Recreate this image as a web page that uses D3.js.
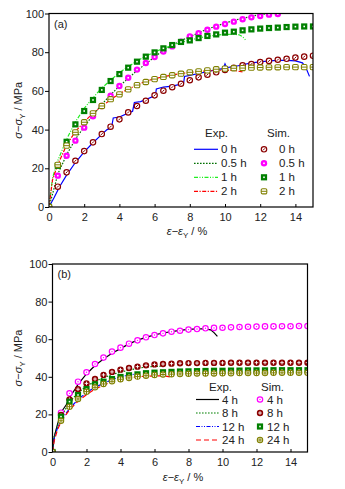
<!DOCTYPE html>
<html>
<head>
<meta charset="utf-8">
<script src="https://cdn.jsdelivr.net/npm/d3@7"></script>
<style>
  body { margin: 0; background: #fff; }
  svg { font-family: "Liberation Sans", Arial, sans-serif; }
  .tick text { font-size: 11px; fill: #222; }
</style>
</head>
<body>
<script>
// strain axis for the simulated points, 0 to 15 % every 0.5 %
const simStrain = d3.range(0, 15.01, 0.5)

// panel (a): 0 / 0.5 / 1 / 2 h
const simA0 = [0, 10.5, 17.9, 23.9, 28.9, 33.4, 37.7, 41.5, 45.3, 48.9, 52.2, 54.9, 57.7, 60.1, 61.9, 63.7,
  65.5, 67.0, 68.4, 69.6, 70.8, 72.0, 73.2, 73.9, 74.9, 75.5, 76.1, 76.6, 77.2, 77.7, 78.2]
const simA05 = [0, 16.2, 26.5, 34.3, 41.0, 46.9, 52.2, 57.5, 62.5, 66.8, 71.0, 74.4, 77.5, 80.3, 83.0, 85.4,
  88.2, 89.8, 91.6, 93.2, 94.6, 95.8, 97.0, 98.0, 98.7, 99.4, 99.7]
const simA1 = [0, 21.3, 33.7, 42.7, 49.6, 55.3, 60.5, 65.1, 68.7, 72.0, 75.1, 77.7, 79.9, 82.0, 83.7, 85.3,
  86.1, 87.3, 88.4, 89.2, 90.1, 90.6, 91.3, 91.8, 92.2, 92.5, 92.7, 93.0, 93.2, 93.3, 93.3]
const simA2 = [0, 21.8, 31.7, 38.6, 43.8, 48.4, 52.2, 55.7, 58.2, 60.8, 63.0, 64.6, 66.1, 67.2, 68.1, 68.9,
  69.6, 70.1, 70.6, 71.2, 71.5, 71.7, 71.8, 72.0, 72.1, 72.2, 72.2, 72.3, 72.3, 72.3, 72.3]

const expA0x = [0, 0.3, 0.6, 1, 1.5, 2, 2.5, 3, 3.3, 3.55, 3.65, 4, 4.5, 4.75, 4.85, 5.2, 5.5, 6, 6.05, 6.1,
  6.5, 7, 7.5, 7.65, 7.7, 8, 8.5, 9, 9.5, 9.9, 10, 10.1, 10.5, 11, 11.5, 12, 12.5, 13, 13.5, 14, 14.4, 14.6, 14.8]
const expA0y = [0, 5, 10.5, 16.5, 23, 28.5, 33.2, 37.5, 40, 40.8, 46, 46.5, 48.5, 49.5, 54, 54.5, 55.5, 57.5, 58, 61,
  62, 62.5, 63.5, 64, 67.5, 68, 69, 70, 71, 71.5, 74, 72, 72.5, 73.5, 74.5, 75, 75.5, 75.8, 75.8, 75.5, 74.5, 72, 67.5]
const expA05x = [0, 0.3, 0.5, 1, 1.5, 2, 2.5, 3, 3.5, 4, 4.5, 5, 5.5, 6, 6.5, 7, 7.5, 8, 8.5, 9, 9.5, 10, 10.5, 11, 11.5, 12, 12.5]
const expA05y = [0, 10, 17, 27, 35, 41.5, 47.5, 53, 58, 62.5, 66.5, 70.5, 74, 77.5, 81, 83.5, 86, 88, 90, 92, 93.5, 95,
  96.5, 97.5, 98.5, 99.5, 100]
const expA1x = [0, 0.2, 0.5, 1, 1.5, 2, 2.5, 3, 3.5, 4, 4.5, 5, 5.5, 6, 6.5, 7, 7.5, 8, 8.5, 9, 9.5, 10, 10.5, 10.8, 11, 11.2]
const expA1y = [0, 15, 24, 35, 44, 51, 56.5, 61.5, 65.5, 69.5, 72.5, 75.5, 78, 80, 82, 83.5, 85, 86.3, 87.3, 88.2, 88.8,
  89.2, 89.3, 89, 88, 86]
const expA2x = [0, 0.2, 0.5, 1, 1.5, 2, 2.5, 3, 3.5, 4, 4.5, 5, 5.5, 6, 6.5, 7, 7.5, 8, 8.5, 9, 9.5, 10, 10.5, 11]
const expA2y = [0, 14, 22, 32, 39, 44, 48.5, 52, 55.5, 58.5, 61, 63, 65, 66.3, 67.3, 68.2, 69, 69.5, 70, 70.4, 70.6,
  70.7, 70.6, 69.8]

// panel (b): 4 / 8 / 12 / 24 h
const simB4 = [0, 20.9, 31.2, 37.4, 42.4, 46.8, 50.2, 53.4, 55.5, 57.6, 59.4, 61.0, 62.2, 63.1, 64.0, 64.5,
  65.1, 65.4, 65.8, 66.0, 66.1, 66.3, 66.5, 66.6, 66.7, 66.8, 66.8, 66.9, 66.9, 67.0, 67.0]
const simB8 = [0, 19.7, 28.0, 33.4, 36.5, 38.8, 41.0, 42.6, 43.8, 44.7, 45.4, 46.1, 46.6, 46.8, 47.0, 47.2,
  47.3, 47.3, 47.4, 47.4, 47.4, 47.5, 47.5, 47.5, 47.5, 47.5, 47.5, 47.5, 47.5, 47.5, 47.5]
const simB12 = [0, 18.8, 26.8, 30.3, 33.5, 36.0, 37.4, 38.8, 39.9, 40.8, 41.3, 41.9, 42.2, 42.4, 42.6, 42.8,
  42.9, 43.0, 43.1, 43.2, 43.2, 43.3, 43.3, 43.4, 43.4, 43.4, 43.5, 43.5, 43.5, 43.5, 43.5]
const simB24 = [0, 16.6, 24.1, 28.2, 32.1, 34.4, 36.2, 37.6, 38.7, 39.4, 40.1, 40.6, 41.0, 41.2, 41.4, 41.5,
  41.6, 41.7, 41.8, 41.8, 41.9, 41.9, 42.0, 42.0, 42.0, 42.0, 42.1, 42.1, 42.1, 42.1, 42.1]

const expB4x = [0, 0.1, 0.3, 0.5, 0.8, 1, 1.3, 1.5, 2, 2.5, 3, 3.5, 4, 4.5, 5, 5.5, 6, 6.5, 7, 7.5, 8, 8.5, 9, 9.3, 9.5, 9.7]
const expB4y = [0, 8, 15, 21, 25, 29, 33, 36, 41.5, 46, 49.5, 52.5, 55, 57.5, 59.5, 61, 62.3, 63.3, 64, 64.7, 65.2,
  65.5, 65.5, 65, 63.5, 61.5]
const expB8x = [0, 0.1, 0.3, 0.5, 1, 1.5, 2, 2.5, 3, 3.5, 4, 4.5, 5, 5.5, 6, 6.5]
const expB8y = [0, 8, 14, 18.5, 26.5, 31.5, 35, 37.5, 39.5, 41.2, 42.5, 43.5, 44.5, 45.2, 45.5, 45.7]
const expB12x = [0, 0.1, 0.3, 0.5, 1, 1.5, 2, 2.5, 3, 3.5, 4, 4.5, 5]
const expB12y = [0, 7, 13, 17, 23, 28, 31.5, 34.5, 36.5, 38.5, 40, 41, 41.5]
const expB24x = [0, 0.1, 0.3, 0.5, 1, 1.5, 2, 2.5, 3, 3.5, 4, 4.5, 5, 5.5, 6, 6.5, 6.9]
const expB24y = [0, 6, 12, 16, 22.5, 27, 30.5, 33.5, 35.5, 37.5, 38.8, 39.5, 40, 40.3, 40.5, 40.5, 40]

const labelsA = ['0 h', '0.5 h', '1 h', '2 h']
const labelsB = ['4 h', '8 h', '12 h', '24 h']
const xTicks = [0, 2, 4, 6, 8, 10, 12, 14]
const yTicks = [0, 20, 40, 60, 80, 100]

const svg = d3.select('body').append('svg').attr('width', 345).attr('height', 489)

// marker glyphs, drawn around (0,0)
const markers = {
  ringSlash: (g, c) => {
    g.append('circle').attr('r', 2.7).attr('fill', '#fff').attr('stroke', c).attr('stroke-width', 1.2)
    g.append('line').attr('x1', -1).attr('y1', 1).attr('x2', 1).attr('y2', -1).attr('stroke', c).attr('stroke-width', 1)
  },
  filledDot: (g, c) => {
    g.append('circle').attr('r', 3.2).attr('fill', c)
    g.append('rect').attr('x', -0.8).attr('y', -0.8).attr('width', 1.6).attr('height', 1.6).attr('fill', '#fff')
  },
  filledSquare: (g, c) => {
    g.append('rect').attr('x', -3.1).attr('y', -3.1).attr('width', 6.2).attr('height', 6.2).attr('fill', c)
    g.append('rect').attr('x', -0.8).attr('y', -0.8).attr('width', 1.6).attr('height', 1.6).attr('fill', '#fff')
  },
  ringBar: (g, c) => {
    g.append('rect').attr('x', -2.8).attr('y', -2.6).attr('width', 5.6).attr('height', 5.2).attr('rx', 1.4)
      .attr('fill', '#fff').attr('stroke', c).attr('stroke-width', 1.1)
    g.append('line').attr('x1', -2.8).attr('x2', 2.8).attr('stroke', c).attr('stroke-width', 1)
  },
  ringDot: (g, c) => {
    g.append('circle').attr('r', 2.7).attr('fill', '#fff').attr('stroke', c).attr('stroke-width', 1.2)
    g.append('circle').attr('r', 0.7).attr('fill', c)
  },
  filledCross: (g, c) => {
    g.append('circle').attr('r', 3.2).attr('fill', c)
    g.append('line').attr('x1', -1.8).attr('x2', 1.8).attr('stroke', '#fff').attr('stroke-width', 0.9)
    g.append('line').attr('y1', -1.8).attr('y2', 1.8).attr('stroke', '#fff').attr('stroke-width', 0.9)
  },
  ringPlus: (g, c) => {
    g.append('circle').attr('r', 2.7).attr('fill', '#fff').attr('stroke', c).attr('stroke-width', 1.1)
    g.append('line').attr('x1', -2.7).attr('x2', 2.7).attr('stroke', c).attr('stroke-width', 1)
    g.append('line').attr('y1', -2.7).attr('y2', 2.7).attr('stroke', c).attr('stroke-width', 1)
  }
}

const panels = [
  {
    id: 'a', tag: '(a)', left: 49, right: 313, top: 13.5, bottom: 207, labels: labelsA,
    exp: [
      { x: expA0x, y: expA0y, color: '#0000ff', dash: null },
      { x: expA05x, y: expA05y, color: '#007000', dash: '1.6,1.4' },
      { x: expA1x, y: expA1y, color: '#22ee22', dash: '4,1.5,1,1.5,1,1.5' },
      { x: expA2x, y: expA2y, color: '#ff0000', dash: '4,1.5,1.2,1.5' }
    ],
    sim: [
      { y: simA0, color: '#8b0000', mark: 'ringSlash' },
      { y: simA05, color: '#ff00ff', mark: 'filledDot' },
      { y: simA1, color: '#008000', mark: 'filledSquare' },
      { y: simA2, color: '#808000', mark: 'ringBar' }
    ],
    legend: { titleY: 133, rows: [149.3, 163.3, 177.3, 191.3], lineX: [194, 218], textX: 221, title1X: 205,
      title2X: 267, markX: 264, simTextX: 279 },
    xLabelX: 187, xLabelY: 235
  },
  {
    id: 'b', tag: '(b)', left: 52.5, right: 307.5, top: 264, bottom: 452, labels: labelsB,
    exp: [
      { x: expB4x, y: expB4y, color: '#000000', dash: null },
      { x: expB8x, y: expB8y, color: '#008000', dash: '1.6,1.4' },
      { x: expB12x, y: expB12y, color: '#0000ff', dash: '4,1.5,1,1.5,1,1.5' },
      { x: expB24x, y: expB24y, color: '#ff0000', dash: '5,3' }
    ],
    sim: [
      { y: simB4, color: '#ff00ff', mark: 'ringDot' },
      { y: simB8, color: '#8b0000', mark: 'filledCross' },
      { y: simB12, color: '#008000', mark: 'filledSquare' },
      { y: simB24, color: '#808000', mark: 'ringPlus' }
    ],
    legend: { titleY: 386.7, rows: [399.5, 413, 426.5, 440], lineX: [196, 219], textX: 222, title1X: 209,
      title2X: 261, markX: 260, simTextX: 267 },
    xLabelX: 183, xLabelY: 481
  }
]

panels.forEach(p => {
  const x = d3.scaleLinear().domain([0, 15]).range([p.left, p.right])
  const y = d3.scaleLinear().domain([0, 100]).range([p.bottom, p.top])
  const g = svg.append('g')

  g.append('clipPath').attr('id', 'clip-' + p.id)
    .append('rect').attr('x', p.left).attr('y', p.top)
    .attr('width', p.right - p.left).attr('height', p.bottom - p.top)

  // axes: x ticks point inward, y ticks outward
  g.append('g').attr('transform', `translate(0,${p.bottom})`)
    .call(d3.axisBottom(x).tickValues(xTicks).tickSizeInner(-3).tickSizeOuter(0).tickPadding(6))
    .call(a => a.select('.domain').remove())
  g.append('g').attr('transform', `translate(${p.left},0)`)
    .call(d3.axisLeft(y).tickValues(yTicks).tickSizeInner(4).tickSizeOuter(0).tickPadding(1))
    .call(a => a.select('.domain').remove())
  g.selectAll('.tick line').attr('stroke', '#000')

  const plot = g.append('g').attr('clip-path', `url(#clip-${p.id})`)
  const line = d3.line().x(d => x(d[0])).y(d => y(d[1]))

  p.exp.forEach(s => {
    plot.append('path').datum(d3.zip(s.x, s.y)).attr('d', line)
      .attr('fill', 'none').attr('stroke', s.color).attr('stroke-width', 1.2)
      .attr('stroke-dasharray', s.dash)
  })

  p.sim.forEach(s => {
    plot.append('g').selectAll('g').data(d3.zip(simStrain, s.y)).join('g')
      .attr('transform', d => `translate(${x(d[0])},${y(d[1])})`)
      .each(function () { markers[s.mark](d3.select(this), s.color) })
  })

  g.append('rect').attr('x', p.left).attr('y', p.top)
    .attr('width', p.right - p.left).attr('height', p.bottom - p.top)
    .attr('fill', 'none').attr('stroke', '#000').attr('stroke-width', 1.2)

  g.append('text').attr('x', p.left + 5).attr('y', p.top + 14).attr('font-size', 11).attr('fill', '#222').text(p.tag)

  // legend
  const L = p.legend
  g.append('text').attr('x', L.title1X).attr('y', L.titleY + 4).attr('font-size', 11.5).attr('fill', '#222').text('Exp.')
  g.append('text').attr('x', L.title2X).attr('y', L.titleY + 4).attr('font-size', 11.5).attr('fill', '#222').text('Sim.')
  p.labels.forEach((lab, i) => {
    const ry = L.rows[i]
    g.append('line').attr('x1', L.lineX[0]).attr('x2', L.lineX[1]).attr('y1', ry).attr('y2', ry)
      .attr('stroke', p.exp[i].color).attr('stroke-width', 1.2).attr('stroke-dasharray', p.exp[i].dash)
    g.append('text').attr('x', L.textX).attr('y', ry + 4).attr('font-size', 11.5).attr('fill', '#222').text(lab)
    const m = g.append('g').attr('transform', `translate(${L.markX},${ry})`)
    markers[p.sim[i].mark](m, p.sim[i].color)
    g.append('text').attr('x', L.simTextX).attr('y', ry + 4).attr('font-size', 11.5).attr('fill', '#222').text(lab)
  })

  // axis titles
  const yl = g.append('text').attr('transform', `translate(22,${(p.top + p.bottom) / 2}) rotate(-90)`)
    .attr('text-anchor', 'middle').attr('font-size', 11).attr('fill', '#222')
  yl.append('tspan').attr('font-style', 'italic').text('σ')
  yl.append('tspan').text('−')
  yl.append('tspan').attr('font-style', 'italic').text('σ')
  yl.append('tspan').attr('font-size', 8).attr('dy', 3).text('Y')
  yl.append('tspan').attr('dy', -3).text(' / MPa')

  const xl = g.append('text').attr('x', p.xLabelX).attr('y', p.xLabelY)
    .attr('text-anchor', 'middle').attr('font-size', 11).attr('fill', '#222')
  xl.append('tspan').attr('font-style', 'italic').text('ε')
  xl.append('tspan').text('−')
  xl.append('tspan').attr('font-style', 'italic').text('ε')
  xl.append('tspan').attr('font-size', 8).attr('dy', 3).text('Y')
  xl.append('tspan').attr('dy', -3).text(' / %')
})
</script>
</body>
</html>
